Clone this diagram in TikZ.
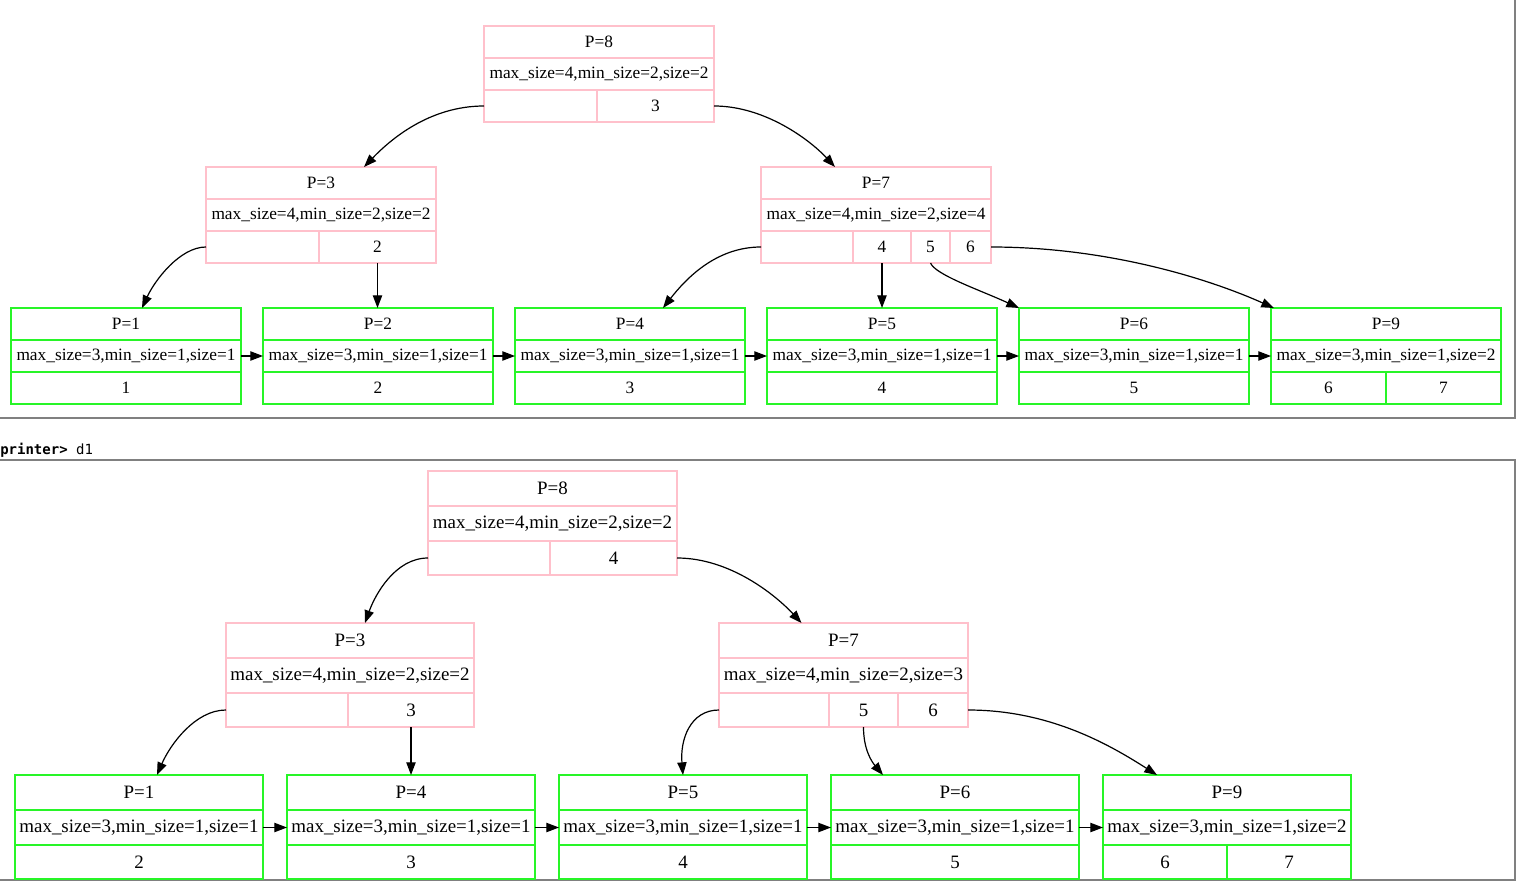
\documentclass[tikz,border=0pt]{standalone}
\usepackage{fontspec}
\setmainfont{Liberation Serif}
\newfontfamily\monofnt{DejaVu Sans Mono}
\usetikzlibrary{arrows.meta,calc}
\definecolor{pinkc}{RGB}{255,192,203}
\definecolor{greenc}{RGB}{40,245,40}
\definecolor{framec}{RGB}{128,128,128}
\newcommand\cell[7][]{\node[#1, minimum width={(#5-#3)*0.75pt}, minimum height={(#6-#4)*0.75pt}] (#2) at ({(#3+#5)/2},{(#4+#6)/2}) {\raisebox{-0.6pt}{#7}};}
\begin{document}
\begin{tikzpicture}[x=0.75pt,y=-0.75pt,
  pk/.style={draw=pinkc, line width=1.1pt, inner sep=0pt, outer sep=0pt},
  gr/.style={draw=greenc, line width=1.5pt, inner sep=0pt, outer sep=0pt},
  fa/.style={font=\fontsize{13}{15}\selectfont},
  fb/.style={font=\fontsize{14.2}{16}\selectfont},
  edge/.style={line width=0.9pt, -{Triangle[length=9.5pt,width=7pt]}},
  frame/.style={draw=framec, line width=1.3pt}]
\useasboundingbox (0,0) rectangle (1516,881);
% frames
\draw[frame] (0,418) -- (1515,418) -- (1515,-2);
\draw[frame] (0,460) -- (1515,460) -- (1515,880) -- (0,880);
\node[anchor=west, inner sep=0pt, font=\monofnt\fontsize{10.5}{12}\selectfont] (prompt) at (0,450) {\textbf{printer>} d1};

% ===== top tree =====
\begin{scope}[every node/.append style={fa}]
\cell[pk]{a8t}{484}{26}{714}{58}{P=8}
\cell[pk]{a8i}{484}{58}{714}{90}{max\_size=4,min\_size=2,size=2}
\cell[pk]{a8a}{484}{90}{597}{122}{}
\cell[pk]{a8b}{597}{90}{714}{122}{3}
\cell[pk]{a3t}{206}{167}{436}{199}{P=3}
\cell[pk]{a3i}{206}{199}{436}{231}{max\_size=4,min\_size=2,size=2}
\cell[pk]{a3a}{206}{231}{319}{263}{}
\cell[pk]{a3b}{319}{231}{436}{263}{2}
\cell[pk]{a7t}{761}{167}{991}{199}{P=7}
\cell[pk]{a7i}{761}{199}{991}{231}{max\_size=4,min\_size=2,size=4}
\cell[pk]{a7a}{761}{231}{853}{263}{}
\cell[pk]{a7b}{853}{231}{911}{263}{4}
\cell[pk]{a7c}{911}{231}{950}{263}{5}
\cell[pk]{a7d}{950}{231}{991}{263}{6}
% leaves
\cell[gr]{a1t}{11}{308}{241}{340}{P=1}
\cell[gr]{a1i}{11}{340}{241}{372}{max\_size=3,min\_size=1,size=1}
\cell[gr]{a1k}{11}{372}{241}{404}{1}
\cell[gr]{a2t}{263}{308}{493}{340}{P=2}
\cell[gr]{a2i}{263}{340}{493}{372}{max\_size=3,min\_size=1,size=1}
\cell[gr]{a2k}{263}{372}{493}{404}{2}
\cell[gr]{a4t}{515}{308}{745}{340}{P=4}
\cell[gr]{a4i}{515}{340}{745}{372}{max\_size=3,min\_size=1,size=1}
\cell[gr]{a4k}{515}{372}{745}{404}{3}
\cell[gr]{a5t}{767}{308}{997}{340}{P=5}
\cell[gr]{a5i}{767}{340}{997}{372}{max\_size=3,min\_size=1,size=1}
\cell[gr]{a5k}{767}{372}{997}{404}{4}
\cell[gr]{a6t}{1019}{308}{1249}{340}{P=6}
\cell[gr]{a6i}{1019}{340}{1249}{372}{max\_size=3,min\_size=1,size=1}
\cell[gr]{a6k}{1019}{372}{1249}{404}{5}
\cell[gr]{a9t}{1271}{308}{1501}{340}{P=9}
\cell[gr]{a9i}{1271}{340}{1501}{372}{max\_size=3,min\_size=1,size=2}
\cell[gr]{a9k}{1271}{372}{1386}{404}{6}
\cell[gr]{a9l}{1386}{372}{1501}{404}{7}
\end{scope}

\draw[edge] (a8a.west) .. controls +(-55,0) and +(26,-27) .. ($(a3t.north)+(43,0)$);
\draw[edge] (a8b.east) .. controls +(51,0) and +(-25,-27) .. ($(a7t.north)+(-41,0)$);
\draw[edge] (a3a.west) .. controls +(-26,0) and +(13,-28) .. ($(a1t.north)+(16,0)$);
\draw[edge] (a3b.south) -- (a3b.south |- a2t.north);
\draw[edge] (a7a.west) .. controls +(-46,0) and +(22,-28) .. ($(a4t.north)+(33,0)$);
\draw[edge] (a7b.south) -- (a7b.south |- a5t.north);
\draw[edge] (a7c.south) .. controls +(5,12) and +(-39,-18) .. (a6t.north west);
\draw[edge] (a7d.east) .. controls +(109,0) and +(-74,-33) .. ($(a9t.north west)+(3,0)$);
\foreach \u/\v in {a1/a2,a2/a4,a4/a5,a5/a6,a6/a9}
  \draw[edge] (\u i.east) -- (\v i.west);

% ===== bottom tree =====
\begin{scope}[every node/.append style={fb}]
\cell[pk]{b8t}{428}{471}{677}{506}{P=8}
\cell[pk]{b8i}{428}{506}{677}{541}{max\_size=4,min\_size=2,size=2}
\cell[pk]{b8a}{428}{541}{550}{575}{}
\cell[pk]{b8b}{550}{541}{677}{575}{4}
\cell[pk]{b3t}{226}{623}{474}{658}{P=3}
\cell[pk]{b3i}{226}{658}{474}{693}{max\_size=4,min\_size=2,size=2}
\cell[pk]{b3a}{226}{693}{348}{727}{}
\cell[pk]{b3b}{348}{693}{474}{727}{3}
\cell[pk]{b7t}{719}{623}{968}{658}{P=7}
\cell[pk]{b7i}{719}{658}{968}{693}{max\_size=4,min\_size=2,size=3}
\cell[pk]{b7a}{719}{693}{829}{727}{}
\cell[pk]{b7b}{829}{693}{898}{727}{5}
\cell[pk]{b7c}{898}{693}{968}{727}{6}
% leaves
\cell[gr]{b1t}{15}{775}{263}{810}{P=1}
\cell[gr]{b1i}{15}{810}{263}{845}{max\_size=3,min\_size=1,size=1}
\cell[gr]{b1k}{15}{845}{263}{879}{2}
\cell[gr]{b4t}{287}{775}{535}{810}{P=4}
\cell[gr]{b4i}{287}{810}{535}{845}{max\_size=3,min\_size=1,size=1}
\cell[gr]{b4k}{287}{845}{535}{879}{3}
\cell[gr]{b5t}{559}{775}{807}{810}{P=5}
\cell[gr]{b5i}{559}{810}{807}{845}{max\_size=3,min\_size=1,size=1}
\cell[gr]{b5k}{559}{845}{807}{879}{4}
\cell[gr]{b6t}{831}{775}{1079}{810}{P=6}
\cell[gr]{b6i}{831}{810}{1079}{845}{max\_size=3,min\_size=1,size=1}
\cell[gr]{b6k}{831}{845}{1079}{879}{5}
\cell[gr]{b9t}{1103}{775}{1351}{810}{P=9}
\cell[gr]{b9i}{1103}{810}{1351}{845}{max\_size=3,min\_size=1,size=2}
\cell[gr]{b9k}{1103}{845}{1227}{879}{6}
\cell[gr]{b9l}{1227}{845}{1351}{879}{7}
\end{scope}

\draw[edge] (b8a.west) .. controls +(-33,0) and +(10,-28) .. ($(b3t.north)+(15,0)$);
\draw[edge] (b8b.east) .. controls +(53,0) and +(-26,-28) .. ($(b7t.north)+(-42,0)$);
\draw[edge] (b3a.west) .. controls +(-31,0) and +(13,-30) .. ($(b1t.north)+(18,0)$);
\draw[edge] (b3b.south) -- (b3b.south |- b4t.north);
\draw[edge] (b7a.west) .. controls +(-29,0) and +(-3,-35) .. (b5t.north);
\draw[edge] (b7b.south) .. controls +(0,23) and +(-11,-13) .. ($(b6t.north)+(-72,0)$);
\draw[edge] (b7c.east) .. controls +(82,0) and +(-47,-30) .. ($(b9t.north)+(-70,0)$);
\foreach \u/\v in {b1/b4,b4/b5,b5/b6,b6/b9}
  \draw[edge] (\u i.east) -- (\v i.west);
\end{tikzpicture}
\end{document}
